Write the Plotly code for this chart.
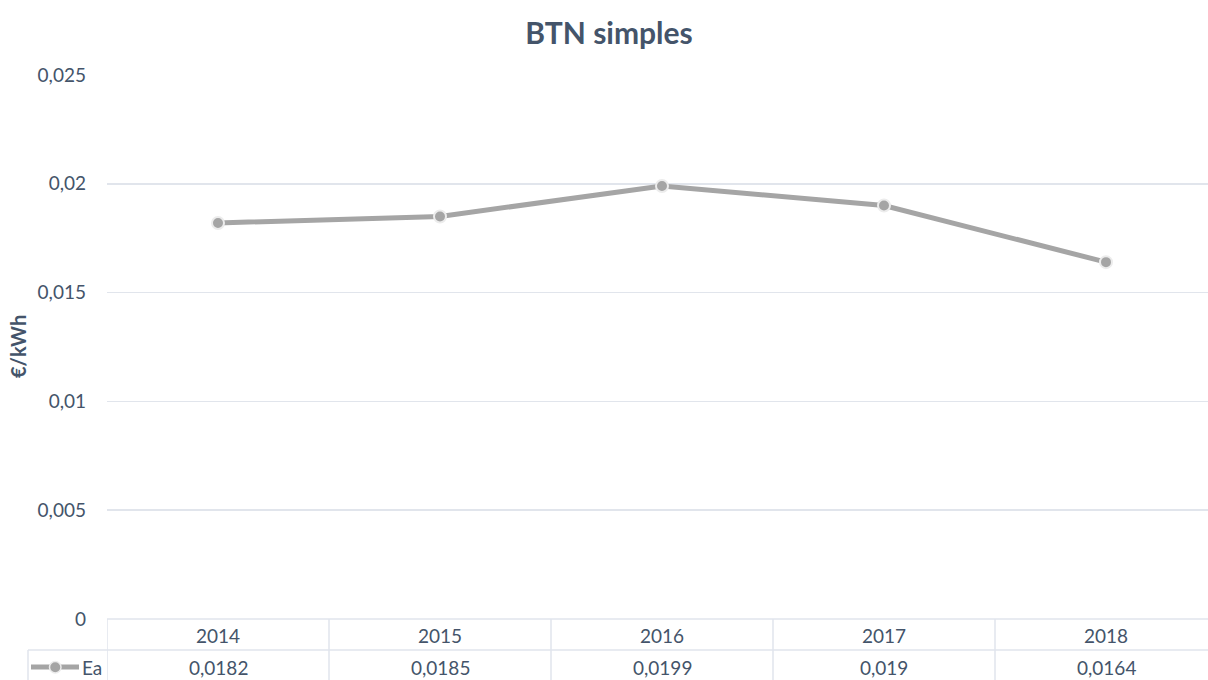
import plotly.graph_objects as go

# ---- data ----
years = ["2014", "2015", "2016", "2017", "2018"]
ea_values = [0.0182, 0.0185, 0.0199, 0.019, 0.0164]
series_name = "Ea"
y_tick_vals = [0, 0.005, 0.01, 0.015, 0.02, 0.025]
y_tick_text = ["0", "0,005", "0,01", "0,015", "0,02", "0,025"]
title_text = "BTN simples"
y_title = "€/kWh"

W, H = 1208, 680
L, R, T, B = 107, 0, 75, 61
pw, ph = W - L - R, H - T - B

TXT = "#44546a"
GRID = "#e1e5ec"
LINE = "#a5a5a5"
FONT = "Lato, Open Sans, sans-serif"

def px_x(px):  # pixel x -> paper x
    return (px - L) / pw

def px_y(py):  # pixel y -> paper y
    return (H - B - py) / ph

fig = go.Figure()
fig.add_trace(go.Scatter(
    x=list(range(len(years))), y=ea_values, mode="lines+markers", name=series_name,
    line=dict(color=LINE, width=5),
    marker=dict(size=12, color=LINE, line=dict(color="#ececec", width=2)),
    cliponaxis=False, showlegend=False, hoverinfo="skip"))

cat_w = 222
xmax = -0.5 + pw / cat_w

shapes = []
shapes.append(dict(type="line", xref="paper", yref="paper", x0=0, x1=1, y0=0, y1=0,
                   line=dict(color=GRID, width=1.5)))
shapes.append(dict(type="line", xref="paper", yref="paper", x0=px_x(28), x1=1,
                   y0=px_y(650), y1=px_y(650), line=dict(color=GRID, width=1.5)))
shapes.append(dict(type="line", xref="paper", yref="paper", x0=px_x(28), x1=px_x(28),
                   y0=px_y(650), y1=px_y(681), line=dict(color=GRID, width=1.5)))
for i in range(len(years)):
    shapes.append(dict(type="line", xref="x", yref="paper", x0=i - 0.5, x1=i - 0.5,
                       y0=0, y1=px_y(681), line=dict(color=GRID, width=1.5)))
# legend key in table
shapes.append(dict(type="line", xref="paper", yref="paper", x0=px_x(31), x1=px_x(79),
                   y0=px_y(667), y1=px_y(667), line=dict(color=LINE, width=5)))
shapes.append(dict(type="circle", xref="paper", yref="paper",
                   x0=px_x(49.5), x1=px_x(61), y0=px_y(661.5), y1=px_y(673),
                   fillcolor=LINE, line=dict(color="#ececec", width=1.5)))

annotations = []
for i, (yr, v) in enumerate(zip(years, ea_values)):
    annotations.append(dict(x=i, xref="x", y=px_y(635), yref="paper", text=yr,
                            showarrow=False, font=dict(size=19, color=TXT, family=FONT),
                            xanchor="center", yanchor="middle"))
    annotations.append(dict(x=i, xref="x", y=px_y(667), yref="paper",
                            text=str(v).replace(".", ","),
                            showarrow=False, font=dict(size=19, color=TXT, family=FONT),
                            xanchor="center", yanchor="middle"))
annotations.append(dict(x=px_x(80), xref="paper", y=px_y(667), yref="paper", text=series_name,
                        showarrow=False, font=dict(size=19, color=TXT, family=FONT),
                        xanchor="left", yanchor="middle"))
annotations.append(dict(x=px_x(18), xref="paper", y=px_y(347), yref="paper",
                        text="<b>" + y_title + "</b>",
                        textangle=-90, showarrow=False,
                        font=dict(size=20, color=TXT, family=FONT),
                        xanchor="center", yanchor="middle"))

fig.update_layout(
    width=W, height=H,
    margin=dict(l=L, r=R, t=T, b=B),
    paper_bgcolor="white", plot_bgcolor="white",
    title=dict(text="<b>" + title_text + "</b>", x=609 / W, xref="container", xanchor="center",
               y=1 - 33 / H, yref="container", yanchor="middle",
               font=dict(size=30, color=TXT, family=FONT)),
    xaxis=dict(range=[-0.5, xmax], showgrid=False, zeroline=False, showticklabels=False,
               showline=False, fixedrange=True),
    yaxis=dict(range=[0, 0.025], tickvals=y_tick_vals, ticktext=y_tick_text,
               showgrid=True, gridcolor=GRID, gridwidth=1.5, zeroline=False, showline=False,
               ticks="", ticklabelstandoff=20, fixedrange=True,
               tickfont=dict(size=19, color=TXT, family=FONT)),
    shapes=shapes, annotations=annotations,
    showlegend=False, hovermode=False,
)

fig.write_html("out.html", config={"displayModeBar": False, "staticPlot": True},
               post_script="document.body.style.margin='0';document.body.style.overflow='hidden';")
